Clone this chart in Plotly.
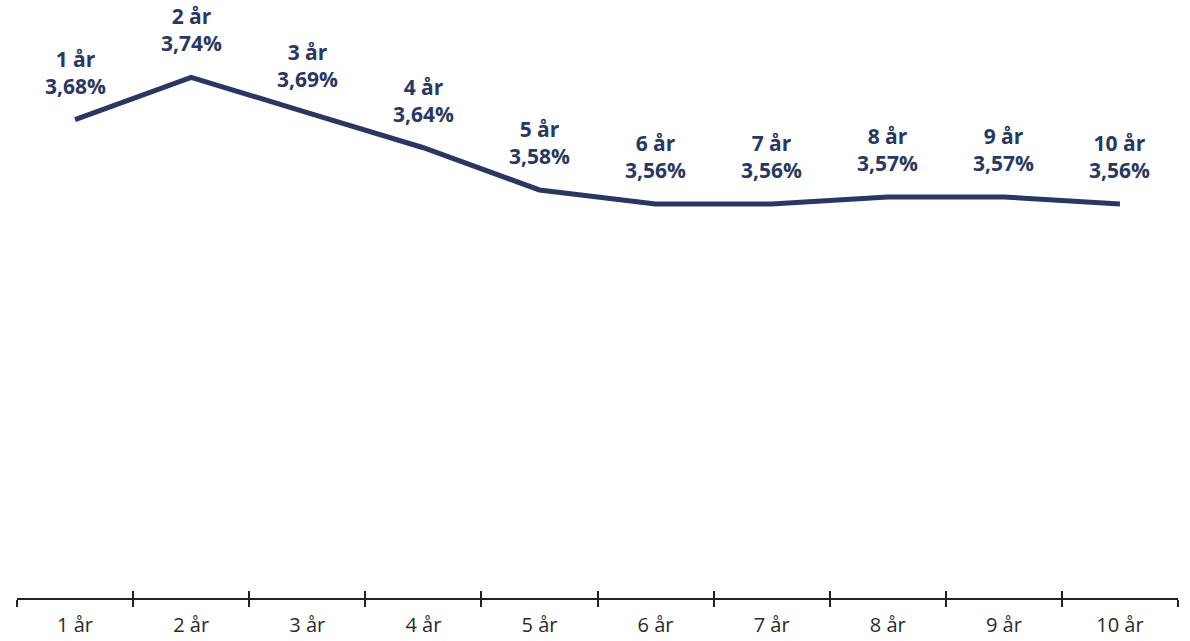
import plotly.graph_objects as go

# Rente pr. løbetid
loebetider = ["1 år", "2 år", "3 år", "4 år", "5 år", "6 år", "7 år", "8 år", "9 år", "10 år"]
renter = [3.68, 3.74, 3.69, 3.64, 3.58, 3.56, 3.56, 3.57, 3.57, 3.56]

NAVY = "#283862"
FONT = "'Open Sans', Lato, sans-serif"

fig = go.Figure()
fig.add_trace(go.Scatter(
    x=loebetider, y=renter, mode="lines",
    line=dict(color=NAVY, width=5),
    hoverinfo="skip", showlegend=False,
))

# Datamærker over hvert punkt
for lbl, val in zip(loebetider, renter):
    fig.add_annotation(
        x=lbl, y=val, xref="x", yref="y",
        text=f"<b>{lbl}<br>{val:.2f}%</b>".replace(".", ","),
        showarrow=False, yanchor="bottom", yshift=18,
        font=dict(family=FONT, size=21, color=NAVY),
        align="center",
    )

# Usynlig hjælpeakse, så tick-stregerne går på begge sider af aksen
fig.add_trace(go.Scatter(x=loebetider, y=renter, xaxis="x2", mode="none",
                         hoverinfo="skip", showlegend=False))

x_range = [-0.5, len(loebetider) - 0.5]
axis_common = dict(
    type="category", tickson="boundaries", showgrid=False, zeroline=False,
    showline=True, linecolor="#222222", linewidth=2,
    tickcolor="#222222", tickwidth=2, range=x_range,
)
fig.update_layout(
    width=1190, height=641,
    margin=dict(l=17, r=12, t=0, b=43),
    paper_bgcolor="white", plot_bgcolor="white",
    xaxis=dict(**axis_common, ticks="outside", ticklen=7, ticklabelstandoff=8,
               tickfont=dict(family=FONT, size=20, color="#2a2a2a")),
    xaxis2=dict(**axis_common, ticks="inside", ticklen=7, overlaying="x",
                side="bottom", showticklabels=False),
    yaxis=dict(range=[3.0, 3.85], visible=False),
)

fig.write_html("out.html")
